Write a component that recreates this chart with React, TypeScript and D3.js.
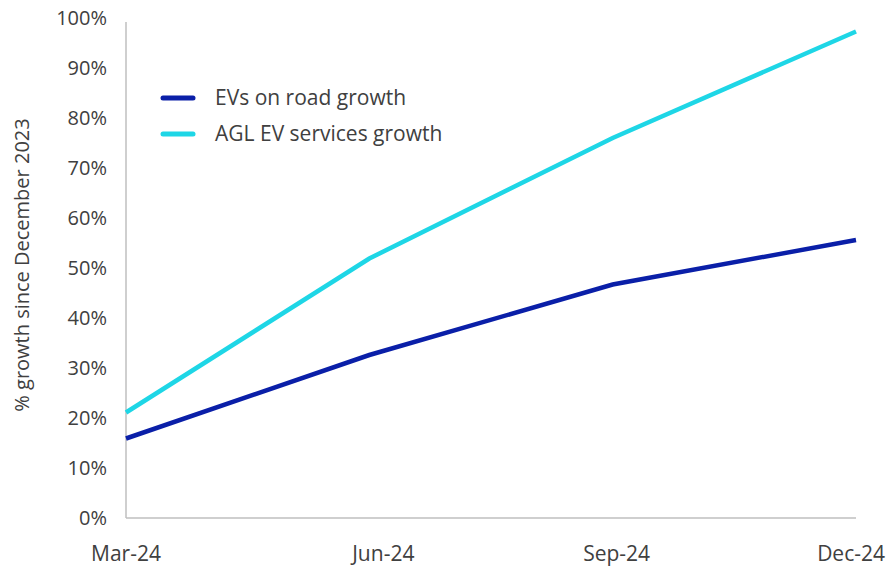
import React from 'react';
import * as d3 from 'd3';

const quarters = ['Mar-24', 'Jun-24', 'Sep-24', 'Dec-24'];
const evsOnRoad = [15.9, 32.6, 46.7, 55.6];
const aglEvServices = [21.1, 51.9, 76.0, 97.3];
const yTicks = [0, 10, 20, 30, 40, 50, 60, 70, 80, 90, 100];

const series = [
    { name: 'EVs on road growth', values: evsOnRoad, color: '#0a1fa8' },
    { name: 'AGL EV services growth', values: aglEvServices, color: '#1ed6e6' },
];

const width = 886;
const height = 566;
const margin = { top: 18, right: 30, bottom: 48, left: 126 };
const font = '"Open Sans", "Noto Sans", sans-serif';
const textColor = '#404040';
const axisColor = '#bfbfbf';

// small nudges so the category labels sit where the original puts them
const labelShift = [0, 14, 4, 29];

const App: React.FC = () => {
    const innerBottom = height - margin.bottom;
    const x = d3.scalePoint<string>().domain(quarters).range([margin.left, width - margin.right]);
    const y = d3.scaleLinear().domain([0, 100]).range([innerBottom, margin.top]);

    const line = d3
        .line<number>()
        .x((_, i) => x(quarters[i]) as number)
        .y((d) => y(d));

    return (
        <svg width={width} height={height} style={{ position: 'absolute', left: 0, top: 0 }}>
            {/* axes */}
            <line x1={margin.left} x2={margin.left} y1={y(100) + 4} y2={innerBottom} stroke={axisColor} strokeWidth={1.5} />
            <line x1={margin.left} x2={x('Dec-24')} y1={innerBottom} y2={innerBottom} stroke={axisColor} strokeWidth={1.5} />

            {yTicks.map((t) => (
                <text key={t} x={107} y={y(t)} dy="0.35em" textAnchor="end" fontFamily={font} fontSize={20} fill={textColor}>
                    {t}%
                </text>
            ))}

            {quarters.map((q, i) => (
                <text
                    key={q}
                    x={x(q) as number}
                    y={561}
                    textAnchor={i === quarters.length - 1 ? 'end' : 'middle'}
                    dx={labelShift[i]}
                    fontFamily={font}
                    fontSize={21}
                    fill={textColor}
                >
                    {q}
                </text>
            ))}

            <text
                transform={`translate(29, 265) rotate(-90)`}
                textAnchor="middle"
                fontFamily={font}
                fontSize={20}
                fill={textColor}
            >
                % growth since December 2023
            </text>

            {series.map((s) => (
                <path key={s.name} d={line(s.values) || ''} fill="none" stroke={s.color} strokeWidth={4.5} />
            ))}

            {/* legend */}
            {series.map((s, i) => (
                <g key={s.name} transform={`translate(163, ${98 + i * 36})`}>
                    <line x1={0} x2={30} y1={0} y2={0} stroke={s.color} strokeWidth={5} strokeLinecap="round" />
                    <text x={52} y={0} dy="0.35em" fontFamily={font} fontSize={21} fill={textColor}>
                        {s.name}
                    </text>
                </g>
            ))}
        </svg>
    );
};

export default App;
